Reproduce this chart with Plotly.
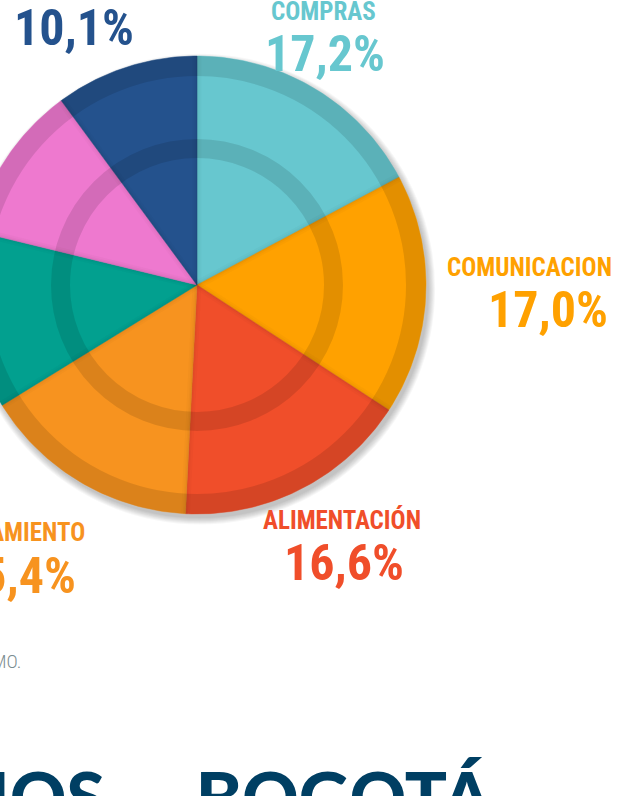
import numpy as np
import plotly.graph_objects as go

# ---- data ----
categories = ["COMPRAS", "COMUNICACION", "ALIMENTACIÓN", "ALOJAMIENTO",
              "TRANSPORTE", "ENTRETENIMIENTO", "OTROS"]
values = [17.2, 17.0, 16.6, 15.4, 12.6, 11.1, 10.1]
value_labels = ["17,2%", "17,0%", "16,6%", "15,4%", "12,6%", "11,1%", "10,1%"]
colors = ["#67C7CF", "#FFA100", "#F04E2A", "#F7931F", "#02A08F", "#EE79CF", "#24528D"]
label_colors = ["#67C7CF", "#FFA100", "#F04E2A", "#F7931F", "#02A08F", "#EE79CF", "#24528D"]
source_text = "FUENTE: ENCUESTA DE CONSUMO."
title_text = "PRECIOS\u00a0\u00a0–\u00a0BOGOTÁ"

W, H = 621, 796
CX, CY, R = 197, 285, 229  # pie centre / radius in pixels

fig = go.Figure()

x_range = [-CX / R, (W - CX) / R]
y_range = [-(H - CY) / R, CY / R]

# drop shadow
for k in range(8):
    rr = 1.0 + 0.004 * k
    fig.add_shape(type="circle", xref="x", yref="y",
                  x0=0.012 - rr, x1=0.012 + rr, y0=-0.018 - rr, y1=-0.018 + rr,
                  fillcolor="rgba(0,0,0,0.03)", line_width=0, layer="below")

# wedges
total = sum(values)
cum = 0.0
for cat, v, col in zip(categories, values, colors):
    a0 = np.pi / 2 - 2 * np.pi * cum / total
    a1 = np.pi / 2 - 2 * np.pi * (cum + v) / total
    t = np.linspace(a0, a1, 80)
    xs = np.concatenate([[0], np.cos(t), [0]])
    ys = np.concatenate([[0], np.sin(t), [0]])
    fig.add_trace(go.Scatter(x=xs, y=ys, fill="toself", fillcolor=col,
                             mode="lines", line=dict(color=col, width=0.5),
                             hoverinfo="skip", name=cat, showlegend=False))
    cum += v

# boundary soft shadows
cum = 0.0
for v in values:
    a = np.pi / 2 - 2 * np.pi * cum / total
    for w, al in [(9, 0.02), (5, 0.025), (2, 0.035)]:
        fig.add_trace(go.Scatter(x=[0, np.cos(a)], y=[0, np.sin(a)], mode="lines",
                                 line=dict(color=f"rgba(0,0,0,{al})", width=w),
                                 hoverinfo="skip", showlegend=False))
    cum += v

# darker rings
for rc, wpx in [(219 / R, 20), (136.5 / R, 19)]:
    fig.add_shape(type="circle", xref="x", yref="y",
                  x0=-rc, x1=rc, y0=-rc, y1=rc,
                  line=dict(color="rgba(0,0,0,0.11)", width=wpx), fillcolor="rgba(0,0,0,0)")

FONT = "Roboto Condensed, Liberation Sans Narrow, DejaVu Sans Condensed, sans-serif"


def label(text, x_px, base_px, size, color, xanchor="center", family=FONT, weight="bold"):
    fig.add_annotation(text=text, xref="paper", yref="paper",
                       x=x_px / W, y=1 - (base_px + 0.21 * size + 1) / H,
                       xanchor=xanchor, yanchor="bottom", showarrow=False,
                       font=dict(family=family, size=size, color=color, weight=weight))


BIG, SMALL = 50, 25
label(categories[0], 323, 22, SMALL, label_colors[0])
label(value_labels[0], 325, 74, BIG, label_colors[0])
label(value_labels[6], 74, 48, BIG, label_colors[6])
label(categories[1], 614, 278, SMALL, label_colors[1], xanchor="right")
label(value_labels[1], 610, 330, BIG, label_colors[1], xanchor="right")
label(categories[2], 342, 531, SMALL, label_colors[2])
label(value_labels[2], 344, 582, BIG, label_colors[2])
label(categories[3], 87, 543, SMALL, label_colors[3], xanchor="right")
label(value_labels[3], 78, 595, BIG, label_colors[3], xanchor="right")

label(source_text, 23, 670, 19, "#7A8C90", xanchor="right", weight=300)
label(title_text, 494, 824, 70, "#003F63", xanchor="right",
      family="Lato, Roboto, Liberation Sans, sans-serif", weight=900)

fig.update_layout(
    width=W, height=H, margin=dict(l=0, r=0, t=0, b=0),
    paper_bgcolor="white", plot_bgcolor="white",
    xaxis=dict(range=x_range, visible=False, fixedrange=True),
    yaxis=dict(range=y_range, visible=False, fixedrange=True),
    showlegend=False,
)

fig.write_html("out.html", config={"displayModeBar": False, "staticPlot": True},
               post_script="document.body.style.margin='0';")
